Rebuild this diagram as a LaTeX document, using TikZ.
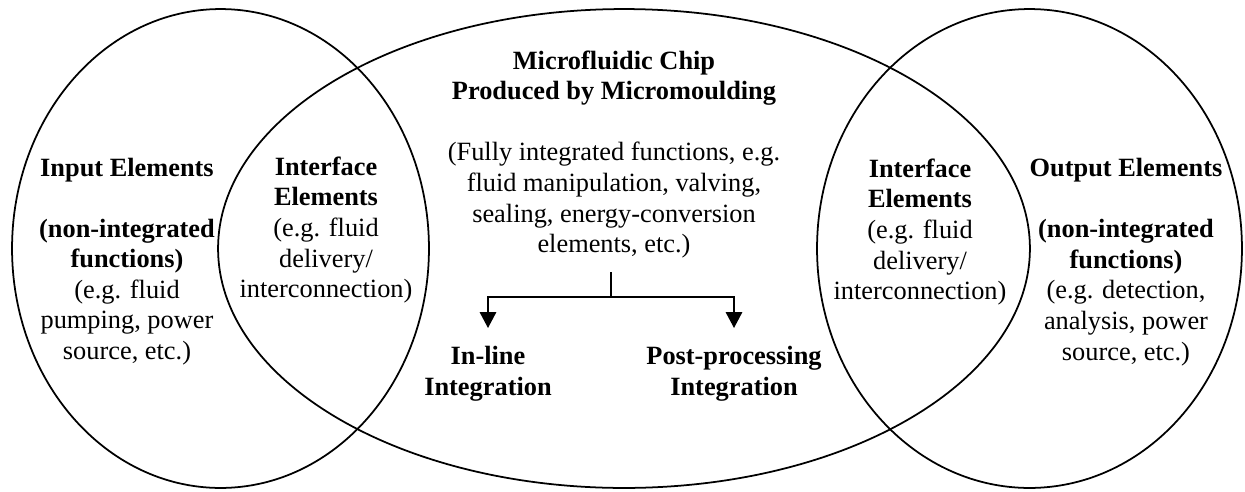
\documentclass[tikz,border=0pt]{standalone}
\usepackage{fontspec}
\setmainfont{Liberation Serif}
\usepackage{tikz}
\usetikzlibrary{shapes.geometric, arrows.meta, positioning}

\begin{document}
\begin{tikzpicture}[
    x=0.02cm, y=-0.02cm,
    region/.style={ellipse, draw, line width=1pt, minimum height=9.58cm, inner sep=0pt},
    txt/.style={align=center, inner sep=0pt, font=\fontsize{15}{17.4}\selectfont},
    arrow/.style={-{Triangle[length=3.2mm, width=3.3mm]}, line width=1pt},
]
    \useasboundingbox (0,0) rectangle (1245,491);

    % the three regions
    \node[region, minimum width=8.34cm] (input) at (220.5,248.5) {};
    \node[region, minimum width=16.24cm] (chip) at (624,248.5) {};
    \node[region, minimum width=8.5cm] (output) at (1029.5,248.5) {};

    % texts
    \node[txt] (inputtxt) at (127,261.5) {\textbf{Input Elements}\\[17.4pt]\textbf{(non-integrated}\\\textbf{functions)}\\(e.g. fluid\\pumping, power\\source, etc.)};
    \node[txt] (ifleft) at (326,230) {\textbf{Interface}\\\textbf{Elements}\\(e.g. fluid\\delivery/\\interconnection)};
    \node[txt] (chiptxt) at (614,154.5) {\textbf{Microfluidic Chip}\\\textbf{Produced by Micromoulding}\\[17.4pt](Fully integrated functions, e.g.\\fluid manipulation, valving,\\sealing, energy-conversion\\elements, etc.)};
    \node[txt] (ifright) at (920,232) {\textbf{Interface}\\\textbf{Elements}\\(e.g. fluid\\delivery/\\interconnection)};
    \node[txt] (outputtxt) at (1126,262) {\textbf{Output Elements}\\[17.4pt]\textbf{(non-integrated}\\\textbf{functions)}\\(e.g. detection,\\analysis, power\\source, etc.)};

    % split into the two routes
    \coordinate (stem) at (611,272);
    \coordinate (fork) at (611,297);
    \coordinate (inl) at (488,328);
    \coordinate (post) at (734,328);
    \node[txt, below=0.36cm of inl] (inline) {\textbf{In-line}\\\textbf{Integration}};
    \node[txt, below=0.36cm of post] (postproc) {\textbf{Post-processing}\\\textbf{Integration}};

    \draw[line width=1pt] (stem) -- (fork);
    \draw[arrow] (fork) -| (inl);
    \draw[arrow] (fork) -| (post);
\end{tikzpicture}
\end{document}
